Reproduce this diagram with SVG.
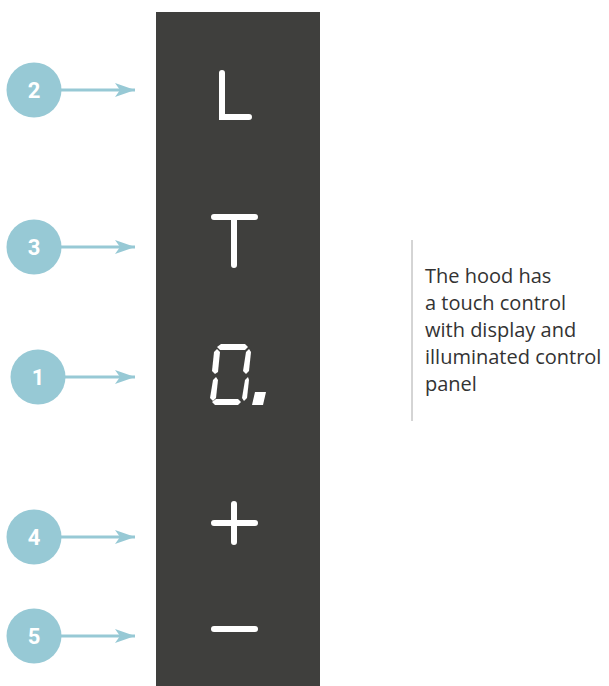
<svg xmlns="http://www.w3.org/2000/svg" width="609" height="686" viewBox="0 0 609 686">
<style>
.c{fill:#97c9d5}
.n{font-family:"Roboto","Liberation Sans",sans-serif;font-weight:bold;font-size:22px;fill:#fff;text-anchor:middle}
.a{stroke:#97c9d5;stroke-width:3;fill:none}
.g{stroke:#fff;stroke-width:6;stroke-linecap:round;stroke-linejoin:miter;fill:none}
.s{fill:#fff}
.t{font-family:"Open Sans","Liberation Sans",sans-serif;font-size:20px;fill:#333}
</style>
<defs>
<marker id="ah" markerWidth="22" markerHeight="16" refX="20" refY="8" markerUnits="userSpaceOnUse" orient="auto">
<path d="M0,1 L20,8 L0,15 L5,8 Z" fill="#97c9d5"/>
</marker>
</defs>
<rect id="panel" x="156" y="12" width="164" height="674" fill="#3f3f3d"/>
<g id="connectors">
<line class="a" x1="60" y1="90" x2="135" y2="90" marker-end="url(#ah)"/>
<line class="a" x1="60" y1="247" x2="135" y2="247" marker-end="url(#ah)"/>
<line class="a" x1="64" y1="377" x2="135" y2="377" marker-end="url(#ah)"/>
<line class="a" x1="60" y1="537" x2="135" y2="537" marker-end="url(#ah)"/>
<line class="a" x1="60" y1="636" x2="135" y2="636" marker-end="url(#ah)"/>
</g>
<g id="node2"><circle class="c" cx="34" cy="90" r="27.5"/><text class="n" x="34" y="98">2</text></g>
<g id="node3"><circle class="c" cx="34" cy="247" r="27.5"/><text class="n" x="34" y="255">3</text></g>
<g id="node1"><circle class="c" cx="38" cy="377" r="27.5"/><text class="n" x="38" y="385">1</text></g>
<g id="node4"><circle class="c" cx="34" cy="537" r="27.5"/><text class="n" x="34" y="545">4</text></g>
<g id="node5"><circle class="c" cx="34" cy="636" r="27.5"/><text class="n" x="34" y="644">5</text></g>
<g id="symL"><path class="g" d="M222,73 V117 H249"/></g>
<g id="symT"><path class="g" d="M214,217 H255 M234,217 V265"/></g>
<g id="sym0">
<polygon class="s" points="221,344 245,344 248,347 245,350 220,350 217,347"/>
<polygon class="s" points="214,352 217,349 220,352 218,372 215,374 212,371"/>
<polygon class="s" points="246,352 249,349 251,352 249,371 246,374 243,371"/>
<polygon class="s" points="213,380 216,377 218,380 216,398 213,401 210,398"/>
<polygon class="s" points="245,380 248,377 249,380 247,398 244,401 242,398"/>
<polygon class="s" points="216,399 238,399 241,402 238,405 215,405 212,402"/>
<polygon class="s" points="255,392 266,392 263,405 252,405"/>
</g>
<g id="symPlus"><path class="g" d="M214,523 H255 M234,504 V542"/></g>
<g id="symMinus"><path class="g" d="M214,629 H255"/></g>
<line x1="412" y1="240" x2="412" y2="421" stroke="#aaa" stroke-width="1"/>
<g id="note">
<text class="t" x="425" y="283">The hood has</text>
<text class="t" x="425" y="310">a touch control</text>
<text class="t" x="425" y="337">with display and</text>
<text class="t" x="425" y="364">illuminated control</text>
<text class="t" x="425" y="391">panel</text>
</g>
</svg>
